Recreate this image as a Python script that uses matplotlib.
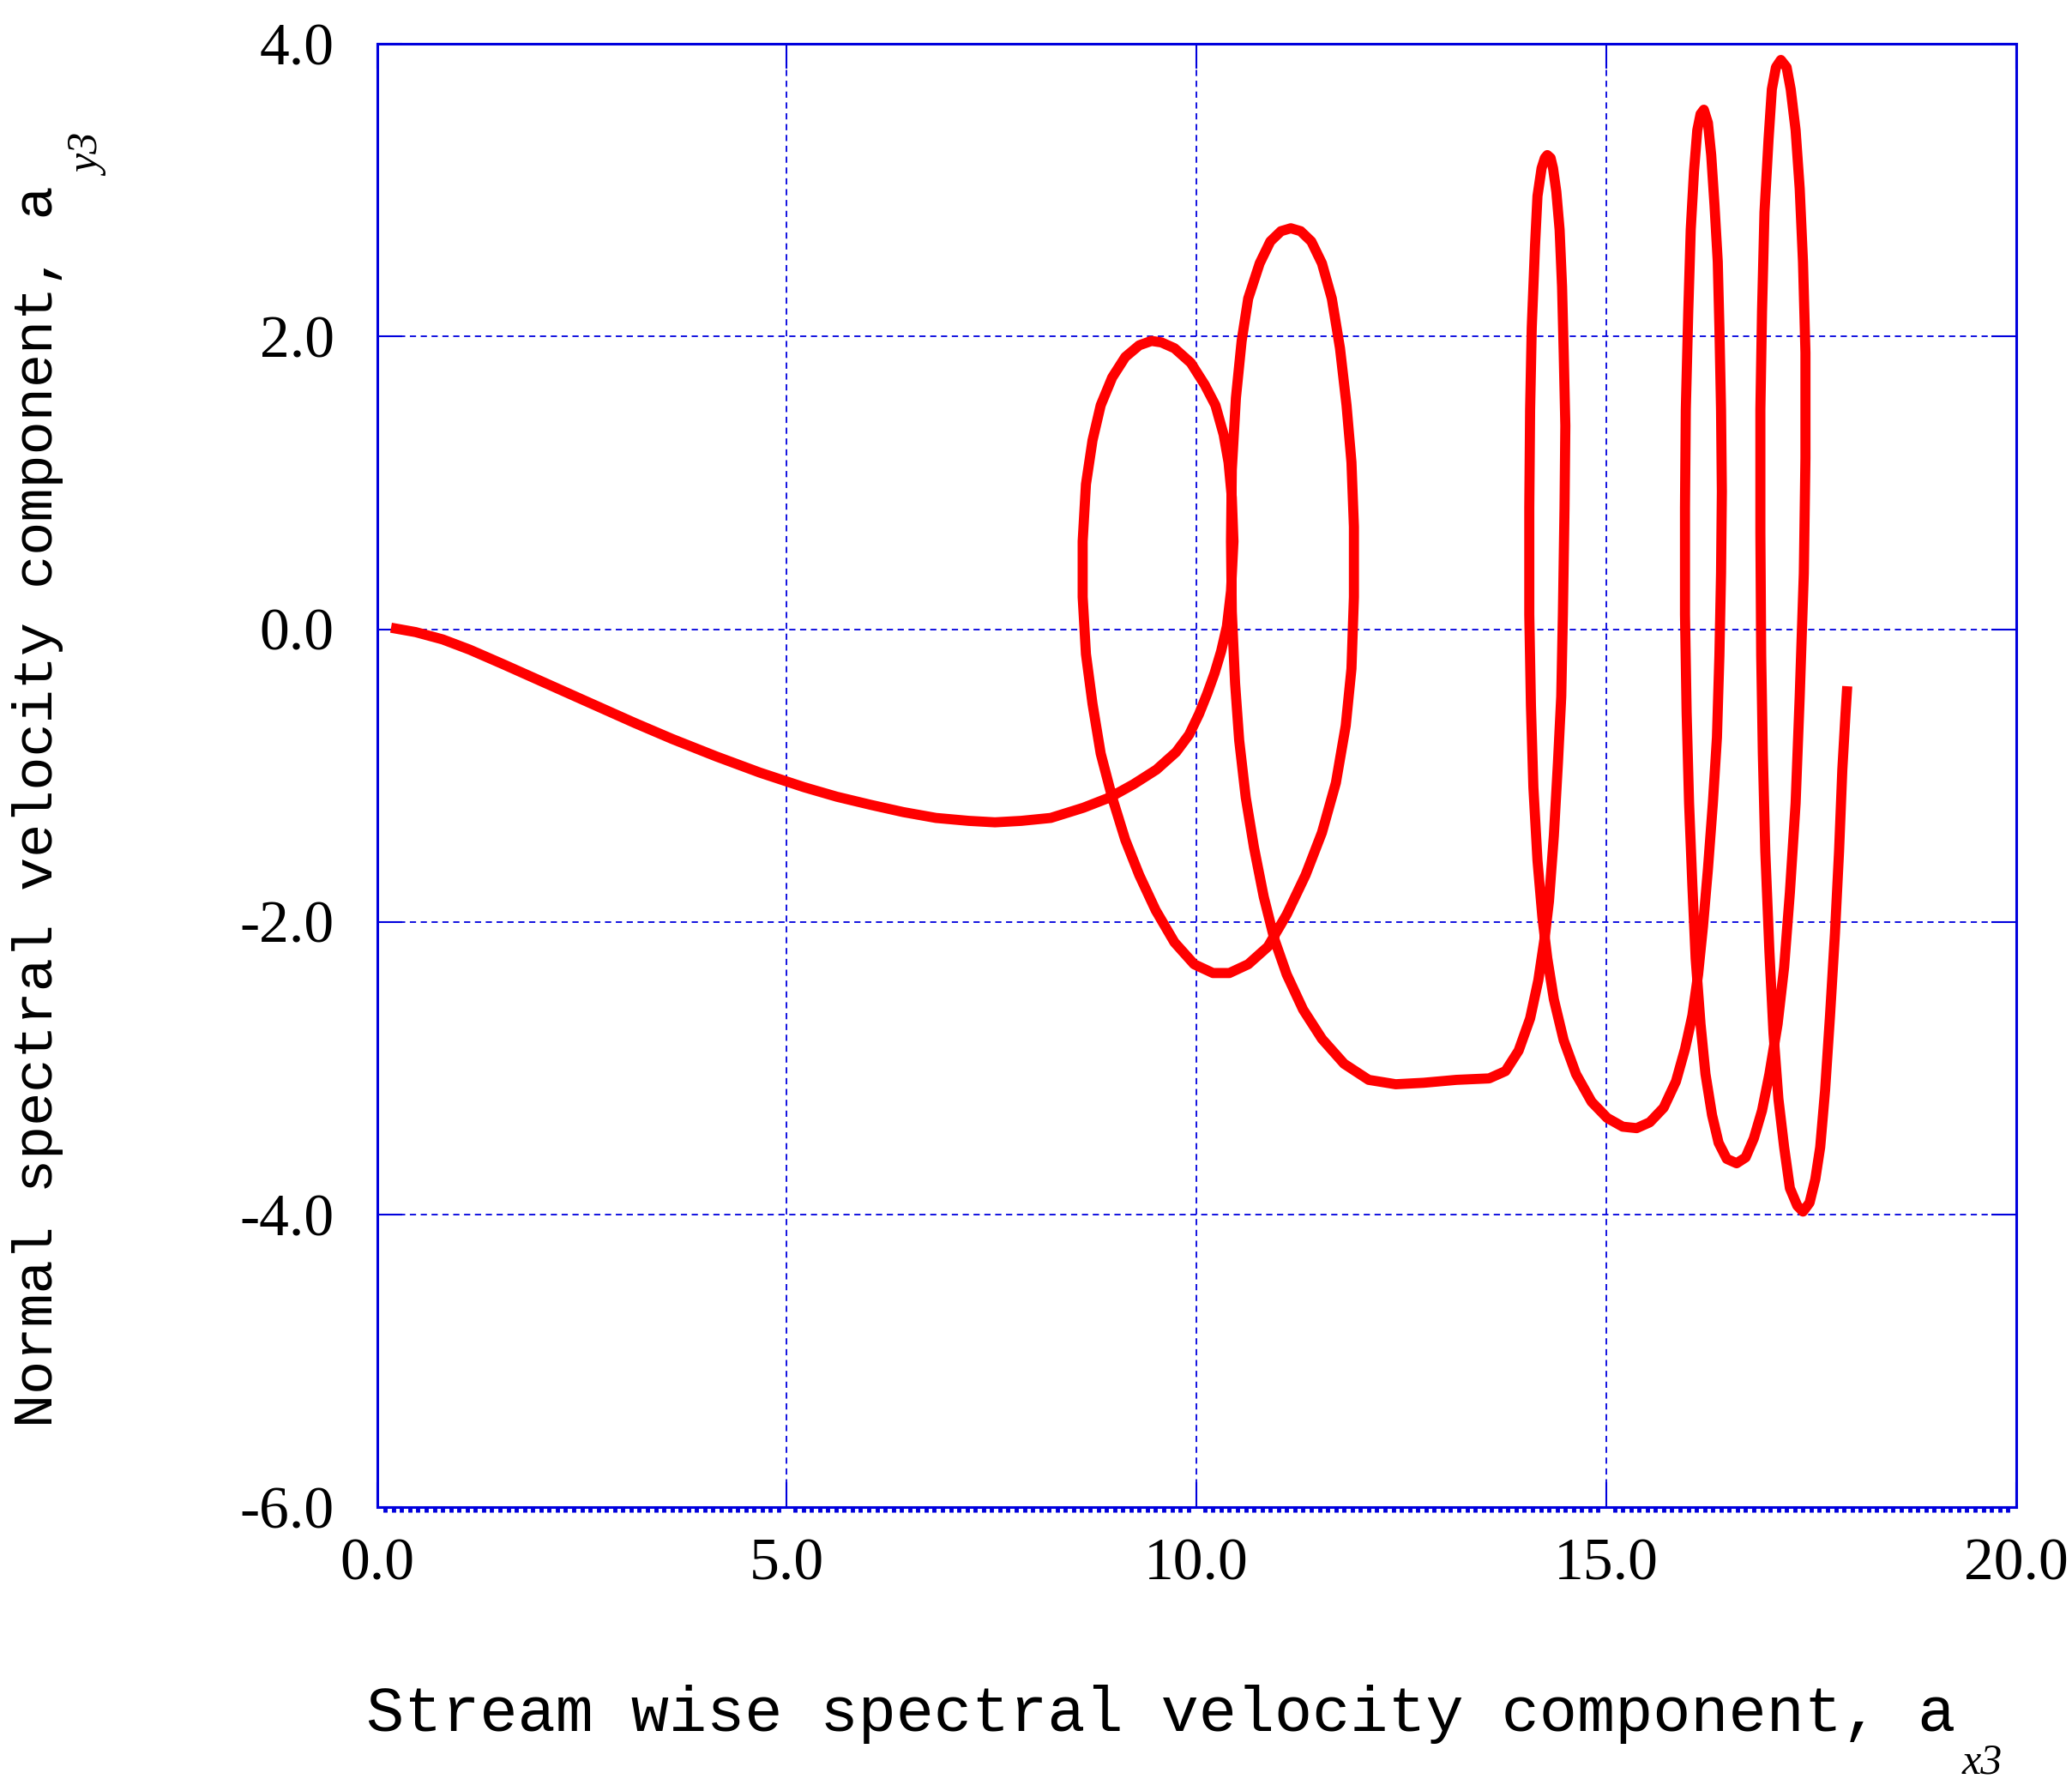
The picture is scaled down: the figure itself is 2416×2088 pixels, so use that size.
import numpy as np
import matplotlib
matplotlib.use("Agg")
import matplotlib.pyplot as plt
from matplotlib.ticker import MultipleLocator

# === DATA ===
# lead-in from the origin down to the first loop
lead_x = [0.17, 0.47, 0.80, 1.13, 1.54, 1.94, 2.34, 2.74, 3.14, 3.60, 4.14, 4.67, 5.21,
          5.61, 6.02, 6.42, 6.82, 7.22, 7.54, 7.86, 8.22, 8.62, 8.94, 9.23, 9.51, 9.75,
          9.91, 10.03, 10.13, 10.22, 10.30, 10.37, 10.42]
lead_y = [0.01, -0.02, -0.07, -0.14, -0.24, -0.34, -0.44, -0.54, -0.64, -0.75, -0.87, -0.98, -1.08,
          -1.145, -1.20, -1.25, -1.29, -1.31, -1.32, -1.31, -1.29, -1.22, -1.15, -1.06, -0.96, -0.84,
          -0.72, -0.58, -0.44, -0.30, -0.15, 0.02, 0.26]

# first two loops and the flat stretch
loops12_x = [10.45, 10.43, 10.39, 10.33, 10.23, 10.10, 9.93, 9.73, 9.57, 9.45, 9.30, 9.13,
             8.97, 8.83, 8.73, 8.65, 8.61, 8.61, 8.65, 8.73, 8.83, 8.97, 9.13, 9.30, 9.50,
             9.73, 9.97, 10.20, 10.40, 10.63, 10.87, 11.10, 11.33, 11.53, 11.70, 11.82, 11.89,
             11.92, 11.92, 11.89, 11.83, 11.75, 11.65, 11.53, 11.40, 11.27, 11.15, 11.03, 10.90,
             10.77, 10.63, 10.55, 10.48, 10.43, 10.42, 10.43, 10.47, 10.52, 10.60, 10.70, 10.82,
             10.95, 11.10, 11.30, 11.53, 11.80, 12.10, 12.43, 12.77, 13.17, 13.57, 13.77, 13.93,
             14.07, 14.17, 14.25]
loops12_y = [0.60, 0.90, 1.14, 1.33, 1.53, 1.67, 1.82, 1.92, 1.96, 1.97, 1.94, 1.86,
             1.72, 1.53, 1.29, 0.99, 0.60, 0.22, -0.17, -0.51, -0.85, -1.15, -1.44, -1.68, -1.92,
             -2.14, -2.29, -2.35, -2.35, -2.29, -2.17, -1.95, -1.68, -1.39, -1.05, -0.66, -0.27,
             0.22, 0.70, 1.14, 1.53, 1.92, 2.26, 2.50, 2.65, 2.72, 2.74, 2.72, 2.65,
             2.50, 2.26, 1.97, 1.58, 1.09, 0.60, 0.12, -0.37, -0.76, -1.15, -1.49, -1.83,
             -2.12, -2.36, -2.60, -2.80, -2.97, -3.08, -3.11, -3.10, -3.08, -3.07, -3.02, -2.88,
             -2.66, -2.40, -2.10]

# the three tall narrow loops and the tail
loops345_x = [14.30, 14.36, 14.41, 14.45, 14.47, 14.49, 14.50, 14.48, 14.46, 14.43, 14.39, 14.35,
              14.32, 14.28, 14.25, 14.21, 14.16, 14.13, 14.09, 14.07, 14.06, 14.06, 14.08, 14.11,
              14.16, 14.22, 14.28, 14.36, 14.48, 14.63, 14.82, 15.01, 15.20, 15.37, 15.53, 15.70,
              15.85, 15.96, 16.05, 16.12, 16.18, 16.24, 16.30, 16.35, 16.38, 16.40, 16.41, 16.40,
              16.38, 16.36, 16.32, 16.28, 16.24, 16.19, 16.15, 16.11, 16.07, 16.03, 16.00, 15.97,
              15.96, 15.96, 15.98, 16.01, 16.05, 16.09, 16.15, 16.21, 16.29, 16.37, 16.47, 16.59,
              16.70, 16.80, 16.90, 16.99, 17.09, 17.17, 17.24, 17.31, 17.36, 17.41, 17.43, 17.43,
              17.40, 17.36, 17.31, 17.25, 17.20, 17.13, 17.07, 17.02, 16.98, 16.93, 16.90, 16.88,
              16.88, 16.89, 16.91, 16.94, 16.99, 17.04, 17.10, 17.17, 17.24, 17.33, 17.40, 17.48,
              17.55, 17.61, 17.67, 17.73, 17.79, 17.84, 17.88, 17.92, 17.94]
loops345_y = [-1.86, -1.41, -0.91, -0.46, 0.10, 0.83, 1.39, 1.89, 2.34, 2.73, 2.99, 3.15,
              3.22, 3.24, 3.22, 3.15, 2.96, 2.62, 2.06, 1.50, 0.83, 0.10, -0.52, -1.08,
              -1.58, -1.97, -2.25, -2.53, -2.81, -3.04, -3.23, -3.34, -3.40, -3.41, -3.37, -3.27,
              -3.09, -2.87, -2.64, -2.36, -2.03, -1.64, -1.19, -0.74, -0.18, 0.38, 0.94, 1.50,
              2.06, 2.51, 2.90, 3.24, 3.46, 3.55, 3.52, 3.41, 3.13, 2.73, 2.17, 1.50,
              0.83, 0.10, -0.57, -1.19, -1.75, -2.25, -2.70, -3.04, -3.32, -3.51, -3.62, -3.65,
              -3.61, -3.48, -3.29, -3.04, -2.70, -2.31, -1.80, -1.19, -0.46, 0.38, 1.17, 1.89,
              2.51, 3.01, 3.41, 3.69, 3.84, 3.89, 3.84, 3.69, 3.35, 2.85, 2.17, 1.50,
              0.66, -0.18, -0.85, -1.52, -2.20, -2.76, -3.21, -3.54, -3.82, -3.94, -3.98, -3.92,
              -3.76, -3.54, -3.15, -2.64, -2.08, -1.52, -0.96, -0.57, -0.39]

x_ticks = [0, 5, 10, 15, 20]
y_ticks = [-6, -4, -2, 0, 2, 4]
x_label = "Stream wise spectral velocity component, a"
y_label = "Normal spectral velocity component, a"

BLUE = "#0000dd"

plt.rcParams['axes.unicode_minus'] = False

fig = plt.figure(figsize=(24.16, 20.88), dpi=100)
ax = fig.add_axes([0.182, 0.1585, 0.791, 0.817])

ax3 = lead_x + loops12_x + loops345_x
ay3 = lead_y + loops12_y + loops345_y
ax.plot(ax3, ay3, color="#ff0000", lw=8.5, solid_capstyle="butt",
        solid_joinstyle="round", zorder=3)

ax.set_xlim(0, 20)
ax.set_ylim(-6, 4)
ax.set_xticks(x_ticks)
ax.set_yticks(y_ticks)
ax.set_xticklabels([f"{v:.1f}" for v in x_ticks], family="Liberation Serif", fontsize=50)
ax.set_yticklabels([f"{v:.1f}" for v in y_ticks], family="Liberation Serif", fontsize=50)
ax.xaxis.set_minor_locator(MultipleLocator(0.1))

ax.grid(True, which="major", color=BLUE, ls=(0, (4, 3)), lw=1.3)
for s in ax.spines.values():
    s.set_color(BLUE)
    s.set_linewidth(2.2)

ax.tick_params(which="major", direction="in", length=21, width=1.5, color=BLUE,
               top=True, right=True)
ax.tick_params(axis="x", which="major", pad=26)
ax.tick_params(axis="y", which="major", pad=36)
ax.tick_params(axis="x", which="minor", direction="out", length=4, width=3.5,
               color=BLUE, top=False)
ax.tick_params(axis="y", which="minor", left=False, right=False)

# axis titles with detached subscripts, as in the reference
fig.text(0.1767, 0.0335, x_label, family="Liberation Mono", fontsize=53,
         ha="left", va="baseline")
fig.text(0.947, 0.010, "x3", family="Liberation Serif", style="italic",
         fontsize=36, ha="left", va="baseline")
fig.text(0.006, 0.203, y_label, family="Liberation Mono", fontsize=47,
         rotation=90, ha="left", va="bottom")
fig.text(0.034, 0.902, "y3", family="Liberation Serif", style="italic",
         fontsize=36, rotation=90, ha="left", va="bottom")

fig.savefig("out.png", dpi=100)
